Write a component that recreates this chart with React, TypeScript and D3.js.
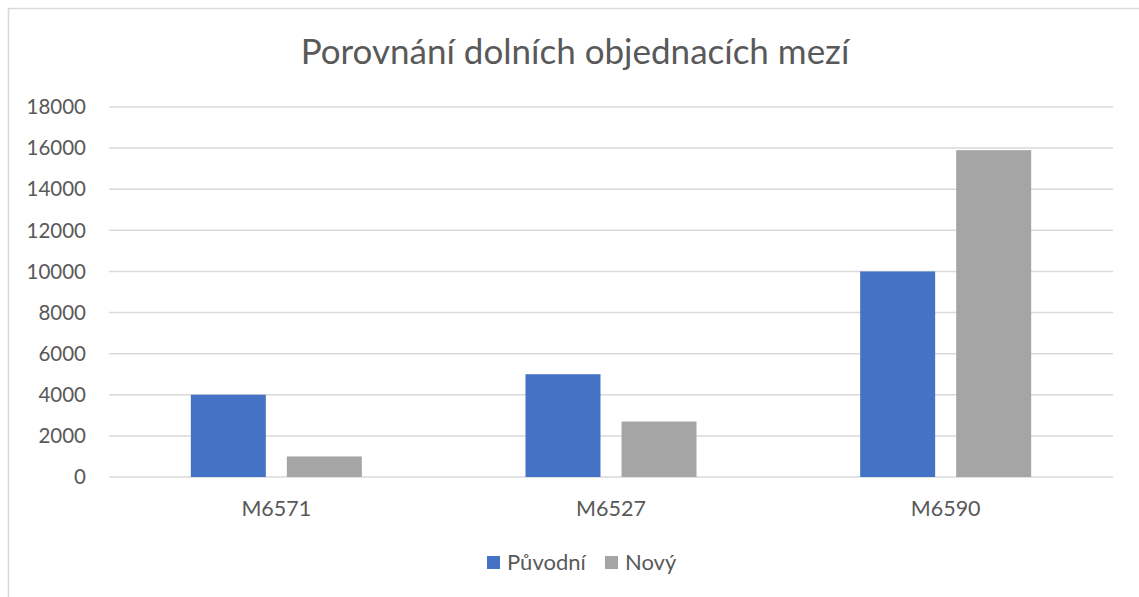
import React, { useRef, useEffect } from 'react';
import * as d3 from 'd3';

const categories = ['M6571', 'M6527', 'M6590'];
const seriesNames = ['Původní', 'Nový'];
const puvodni = [4000, 5000, 10000];
const novy = [1000, 2700, 15900];
const yTicks = [0, 2000, 4000, 6000, 8000, 10000, 12000, 14000, 16000, 18000];
const colors = ['#4472C4', '#A5A5A5'];

const App = () => {
  const svgRef = useRef<SVGSVGElement>(null);

  useEffect(() => {
    const svg = d3.select(svgRef.current);
    svg.selectAll('*').remove();

    const width = 1139;
    const height = 597;
    const margin = { top: 107, right: 26, bottom: 120, left: 109 };
    const font = 'Lato, "Open Sans", sans-serif';
    const textColor = '#595959';

    // chart frame
    svg.append('rect')
       .attr('x', 8.5).attr('y', 8.5)
       .attr('width', width).attr('height', height)
       .attr('fill', '#fff')
       .attr('stroke', '#D9D9D9')
       .attr('stroke-width', 1.5);

    const x = d3.scaleBand()
                .domain(categories)
                .range([margin.left, width - margin.right]);

    const inner = d3.scaleBand()
                    .domain(seriesNames)
                    .range([0, 171])
                    .paddingInner(0.219);

    const y = d3.scaleLinear()
                .domain([0, 18000])
                .range([height - margin.bottom, margin.top]);

    // gridlines
    svg.append('g')
       .selectAll('line')
       .data(yTicks)
       .join('line')
       .attr('x1', margin.left)
       .attr('x2', width - margin.right)
       .attr('y1', d => y(d))
       .attr('y2', d => y(d))
       .attr('stroke', '#D9D9D9')
       .attr('stroke-width', 1.5);

    // y labels
    svg.append('g')
       .selectAll('text')
       .data(yTicks)
       .join('text')
       .attr('x', 86)
       .attr('y', d => y(d))
       .attr('dy', '0.35em')
       .attr('text-anchor', 'end')
       .attr('font-family', font)
       .attr('font-size', 20.5)
       .attr('fill', textColor)
       .text(d => String(d));

    const series = [puvodni, novy];
    series.forEach((vals, si) => {
      svg.append('g')
         .attr('fill', colors[si])
         .selectAll('rect')
         .data(vals)
         .join('rect')
         .attr('x', (d, i) => x(categories[i])! + x.bandwidth() / 2 - 85.5 + inner(seriesNames[si])!)
         .attr('y', d => y(d))
         .attr('width', inner.bandwidth())
         .attr('height', d => y(0) - y(d));
    });

    // category labels
    svg.append('g')
       .selectAll('text')
       .data(categories)
       .join('text')
       .attr('x', d => x(d)! + x.bandwidth() / 2)
       .attr('y', 508)
       .attr('dy', '0.35em')
       .attr('text-anchor', 'middle')
       .attr('font-family', font)
       .attr('font-size', 21.5)
       .attr('fill', textColor)
       .text(d => d);

    // title
    svg.append('text')
       .attr('x', 575)
       .attr('y', 64)
       .attr('text-anchor', 'middle')
       .attr('font-family', font)
       .attr('font-size', 35)
       .attr('fill', textColor)
       .text('Porovnání dolních objednacích mezí');

    // legend
    const legendX = [487, 605];
    const legend = svg.append('g');
    seriesNames.forEach((name, i) => {
      legend.append('rect')
            .attr('x', legendX[i]).attr('y', 556)
            .attr('width', 13).attr('height', 13)
            .attr('fill', colors[i]);
      legend.append('text')
            .attr('x', legendX[i] + 20)
            .attr('y', 562)
            .attr('dy', '0.35em')
            .attr('font-family', font)
            .attr('font-size', 22)
            .attr('fill', textColor)
            .text(name);
    });
  }, []);

  return (
    <svg ref={svgRef} width={1139} height={597}
         style={{ position: 'absolute', left: 0, top: 0 }}></svg>
  );
};

export default App;
